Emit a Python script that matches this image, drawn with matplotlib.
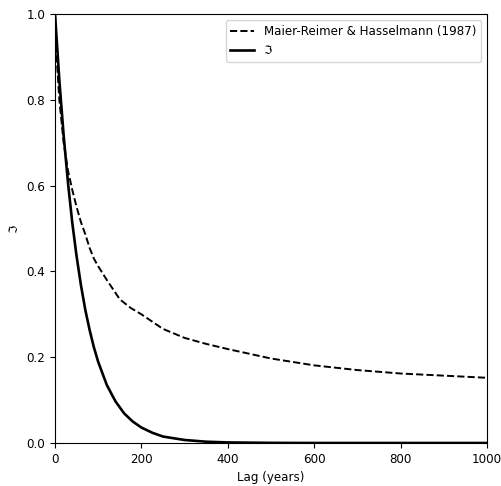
import matplotlib
matplotlib.use("Agg")
import matplotlib.pyplot as plt

# Maier-Reimer & Hasselmann (1987) response
mrh_lag = [0, 5, 10, 20, 30, 40, 50, 60, 70, 80, 90, 100, 120, 150, 175, 200,
           250, 300, 350, 400, 450, 500, 600, 700, 800, 900, 1000]
mrh_val = [1.0, 0.88, 0.80, 0.70, 0.635, 0.59, 0.55, 0.515, 0.487, 0.455, 0.43,
           0.412, 0.38, 0.335, 0.315, 0.300, 0.266, 0.245, 0.231, 0.219, 0.208,
           0.197, 0.181, 0.170, 0.162, 0.157, 0.152]

# fitted response
fit_lag = [0, 10, 20, 30, 40, 50, 60, 70, 80, 90, 100, 120, 140, 160, 180, 200,
           225, 250, 300, 350, 400, 500, 600, 1000]
fit_val = [1.0, 0.846, 0.717, 0.607, 0.513, 0.435, 0.368, 0.311, 0.264, 0.223,
           0.189, 0.135, 0.097, 0.069, 0.050, 0.036, 0.024, 0.015, 0.007, 0.003,
           0.0013, 0.0003, 0.0, 0.0]

plt.rcParams["font.size"] = 8.6

fig = plt.figure(figsize=(5.02, 4.86), dpi=100)
ax = fig.add_axes([0.1096, 0.0885, 0.8604, 0.8825])

ax.plot(mrh_lag, mrh_val, "k--", lw=1.4, label="Maier-Reimer & Hasselmann (1987)")
ax.plot(fit_lag, fit_val, "k-", lw=1.9, label="\u2111")

ax.set_xlim(0, 1000)
ax.set_ylim(0, 1.0)
ax.set_xlabel("Lag (years)")
ax.set_ylabel("\u2111")
ax.legend(loc="upper right")

fig.savefig("out.png", dpi=100)
